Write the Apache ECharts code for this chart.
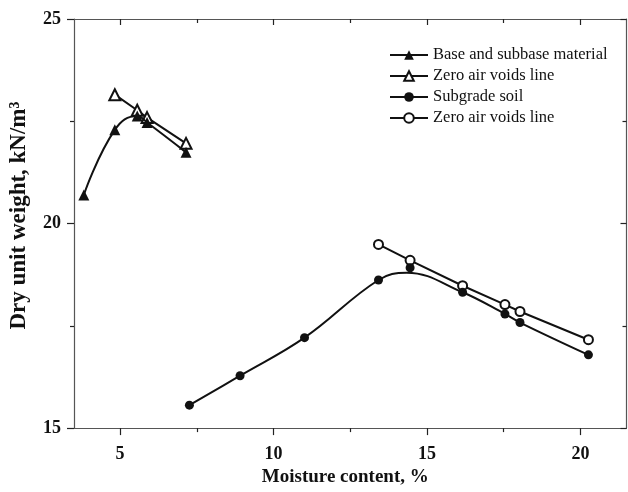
<!DOCTYPE html>
<html>
<head>
<meta charset="utf-8">
<script src="https://cdn.jsdelivr.net/npm/echarts@6/dist/echarts.min.js"></script>
<style>html,body{margin:0;padding:0;background:#fff;}#c{width:628px;height:492px;}</style>
</head>
<body>
<div id="c"></div>
<script>
// Base and subbase material (filled triangles)
const baseX = [3.82, 4.83, 5.56, 5.88, 7.15];
const baseY = [20.70, 22.29, 22.63, 22.47, 21.74];
// Zero air voids line for base (open triangles)
const zavBaseX = [4.83, 5.56, 5.88, 7.15];
const zavBaseY = [23.15, 22.77, 22.59, 21.96];
// Subgrade soil measured points (filled circles)
const soilX = [7.26, 8.91, 11.01, 13.42, 14.45, 16.16, 17.54, 18.03, 20.26];
const soilY = [15.56, 16.28, 17.21, 18.62, 18.92, 18.32, 17.79, 17.58, 16.79];
// Fitted compaction curve for subgrade soil
const soilCurveX = [7.26, 8.91, 11.01, 13.42, 14.34, 16.16, 17.54, 18.03, 20.26];
const soilCurveY = [15.56, 16.28, 17.21, 18.62, 18.80, 18.32, 17.79, 17.58, 16.79];
// Zero air voids line for subgrade (open circles)
const zavSoilX = [13.42, 14.45, 16.16, 17.54, 18.03, 20.26];
const zavSoilY = [19.49, 19.10, 18.48, 18.02, 17.85, 17.16];
// Ticks
const xMajor = [5, 10, 15, 20];
const xMinor = [7.5, 12.5, 17.5];
const yMajor = [15, 20, 25];
const yMinor = [17.5, 22.5];

const FONT = 'Liberation Serif';
const AX = '#555';
const pair = (xs, ys) => xs.map((x, i) => [x, ys[i]]);

function xa(pos, ticks, len, inside, labels, showLine, extra) {
  return Object.assign({
    type: 'value', min: 3.5, max: 21.5, position: pos, gridIndex: 0,
    axisLine: { show: showLine, onZero: false, lineStyle: { color: AX, width: 1.2 } },
    axisTick: { show: true, inside: inside, length: len, customValues: ticks, lineStyle: { color: '#222', width: 1.2 } },
    axisLabel: labels ? { show: true, customValues: ticks, margin: 17, color: '#111', fontFamily: FONT, fontWeight: 'bold', fontSize: 18 } : { show: false },
    splitLine: { show: false }
  }, extra || {});
}
function ya(pos, ticks, len, inside, labels, showLine, extra) {
  return Object.assign({
    type: 'value', min: 15, max: 25, position: pos, gridIndex: 0,
    axisLine: { show: showLine, onZero: false, lineStyle: { color: AX, width: 1.2 } },
    axisTick: { show: true, inside: inside, length: len, customValues: ticks, lineStyle: { color: '#222', width: 1.2 } },
    axisLabel: labels ? { show: true, customValues: ticks, margin: 13, color: '#111', fontFamily: FONT, fontWeight: 'bold', fontSize: 18 } : { show: false },
    splitLine: { show: false }
  }, extra || {});
}

const chart = echarts.init(document.getElementById('c'), null, { renderer: 'canvas' });
chart.setOption({
  animation: false,
  backgroundColor: '#fff',
  grid: { left: 73.5, right: 1.5, top: 19, bottom: 61.5, containLabel: false },
  legend: {
    orient: 'vertical', left: 384, top: 41.5,
    itemWidth: 38, itemHeight: 12, itemGap: 4,
    textStyle: { fontFamily: FONT, fontSize: 16.5, color: '#111', lineHeight: 16.5 },
    data: ['Base and subbase material', 'Zero air voids line', 'Subgrade soil', 'Zero air voids line ']
  },
  xAxis: [
    xa('bottom', xMajor, 7, false, true, true, {
      name: 'Moisture content, %', nameLocation: 'middle', nameGap: 33,
      nameTextStyle: { fontFamily: FONT, fontWeight: 'bold', fontSize: 19, color: '#111', padding: [0, 10, 0, 0] }
    }),
    xa('bottom', xMinor, 4, false, false, false),
    xa('top', xMajor, 6, true, false, true),
    xa('top', xMinor, 4, true, false, false)
  ],
  yAxis: [
    ya('left', yMajor, 7, false, true, true, {
      name: 'Dry unit weight, kN/m\u00b3', nameLocation: 'middle', nameGap: 43,
      nameTextStyle: { fontFamily: FONT, fontWeight: 'bold', fontSize: 23, color: '#111', padding: [0, 0, 0, 16] }
    }),
    ya('left', yMinor, 4, false, false, false),
    ya('right', yMajor, 6, true, false, true),
    ya('right', yMinor, 4, true, false, false)
  ],
  series: [
    {
      name: 'Base and subbase material', type: 'line', smooth: 0.45,
      data: pair(baseX, baseY), symbol: 'triangle', symbolSize: 11,
      itemStyle: { color: '#111' }, lineStyle: { color: '#111', width: 2 }, z: 3
    },
    {
      name: 'Zero air voids line', type: 'line',
      data: pair(zavBaseX, zavBaseY), symbol: 'emptyTriangle', symbolSize: 11,
      itemStyle: { color: '#111', borderWidth: 1.2 }, lineStyle: { color: '#111', width: 2 }, z: 2
    },
    {
      name: 'Subgrade soil', type: 'line', smooth: 0.4,
      data: soilCurveX.map((x, i) => {
        const onPoint = soilX.indexOf(x) >= 0;
        return onPoint ? [x, soilCurveY[i]] : { value: [x, soilCurveY[i]], symbol: 'none' };
      }),
      symbol: 'circle', symbolSize: 9,
      itemStyle: { color: '#111' }, lineStyle: { color: '#111', width: 2 }, z: 3
    },
    {
      name: 'soilPoints', type: 'scatter',
      data: pair(soilX, soilY).filter((p, i) => soilCurveX[i] !== p[0] || soilCurveY[i] !== p[1]),
      symbol: 'circle', symbolSize: 9, itemStyle: { color: '#111', opacity: 1 }, z: 4
    },
    {
      name: 'Zero air voids line ', type: 'line',
      data: pair(zavSoilX, zavSoilY), symbol: 'emptyCircle', symbolSize: 9,
      itemStyle: { color: '#111', borderWidth: 1.2 }, lineStyle: { color: '#111', width: 2 }, z: 2
    }
  ]
});
</script>
</body>
</html>
